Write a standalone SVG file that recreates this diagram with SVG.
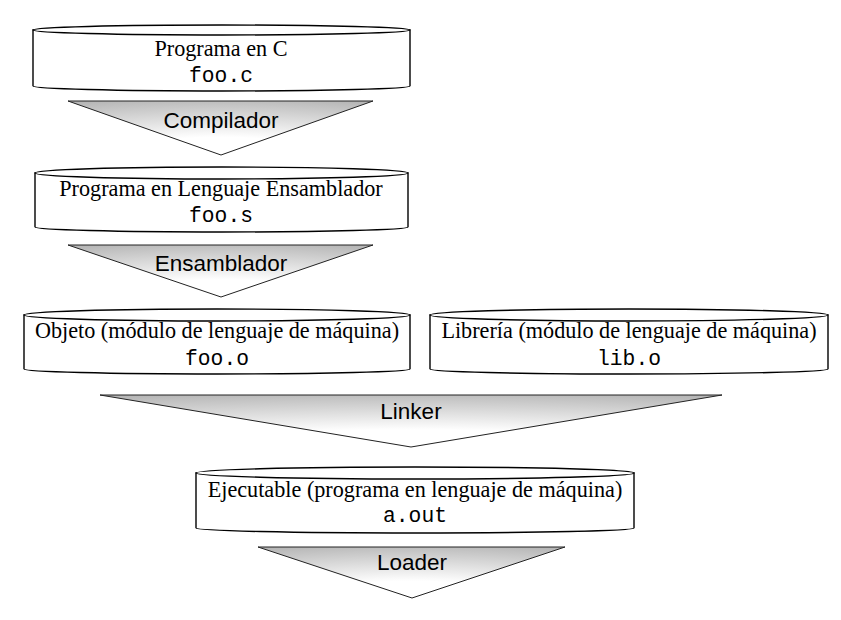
<svg xmlns="http://www.w3.org/2000/svg" width="841" height="620" viewBox="0 0 841 620">
<style>
.box{fill:#fff;stroke:#000;stroke-width:1.4}
.tri{fill:url(#g);stroke:#222;stroke-width:1}
.lbl{font-family:"Liberation Serif","Times New Roman",serif;font-size:22.2px;fill:#000;text-anchor:middle}
.file{font-family:"Liberation Mono","Courier New",monospace;font-size:21.3px;fill:#000;text-anchor:middle}
.tool{font-family:"Liberation Sans",Arial,sans-serif;font-size:22.5px;fill:#000;text-anchor:middle}
</style>
<defs>
<radialGradient id="g" cx="0.5" cy="1" r="1.1">
<stop offset="0" stop-color="#fff"/>
<stop offset="0.3" stop-color="#fff"/>
<stop offset="1" stop-color="#b4b4b4"/>
</radialGradient>
</defs>
<rect width="841" height="620" fill="#fff"/>
<g id="n-c">
<path class="box" d="M33,30 V86 A188.5,5 0 0 0 410,86 V30 Z"/>
<ellipse class="box" cx="221.5" cy="30" rx="188.5" ry="5"/>
<text class="lbl" x="221" y="56">Programa en C</text>
<text class="file" x="221" y="82">foo.c</text>
</g>
<g id="t-compilador">
<polygon class="tri" points="68,101 373,101 221,155"/>
<text class="tool" x="221" y="128">Compilador</text>
</g>
<g id="n-asm">
<path class="box" d="M35,173 V227 A186.5,5 0 0 0 408,227 V173 Z"/>
<ellipse class="box" cx="221.5" cy="173" rx="186.5" ry="6"/>
<text class="lbl" x="221" y="196">Programa en Lenguaje Ensamblador</text>
<text class="file" x="221" y="222">foo.s</text>
</g>
<g id="t-ensamblador">
<polygon class="tri" points="68,245 373,245 221,297"/>
<text class="tool" x="221" y="271">Ensamblador</text>
</g>
<g id="n-obj">
<path class="box" d="M24,315 V369 A193,5 0 0 0 410,369 V315 Z"/>
<ellipse class="box" cx="217" cy="315" rx="193" ry="6"/>
<text class="lbl" x="217" y="338">Objeto (módulo de lenguaje de máquina)</text>
<text class="file" x="217" y="365">foo.o</text>
</g>
<g id="n-lib">
<path class="box" d="M430,315 V369 A199,5 0 0 0 828,369 V315 Z"/>
<ellipse class="box" cx="629" cy="315" rx="199" ry="6"/>
<text class="lbl" x="629" y="338">Librería (módulo de lenguaje de máquina)</text>
<text class="file" x="629" y="365">lib.o</text>
</g>
<g id="t-linker">
<polygon class="tri" points="100,395 722,395 411,447"/>
<text class="tool" x="411" y="419">Linker</text>
</g>
<g id="n-exe">
<path class="box" d="M196,473 V528 A219,5 0 0 0 634,528 V473 Z"/>
<ellipse class="box" cx="415" cy="473" rx="219" ry="6"/>
<text class="lbl" x="415" y="497">Ejecutable (programa en lenguaje de máquina)</text>
<text class="file" x="415" y="522">a.out</text>
</g>
<g id="t-loader">
<polygon class="tri" points="258,547 565,547 412,598"/>
<text class="tool" x="412" y="570">Loader</text>
</g>
<g id="connectors"></g>
</svg>
